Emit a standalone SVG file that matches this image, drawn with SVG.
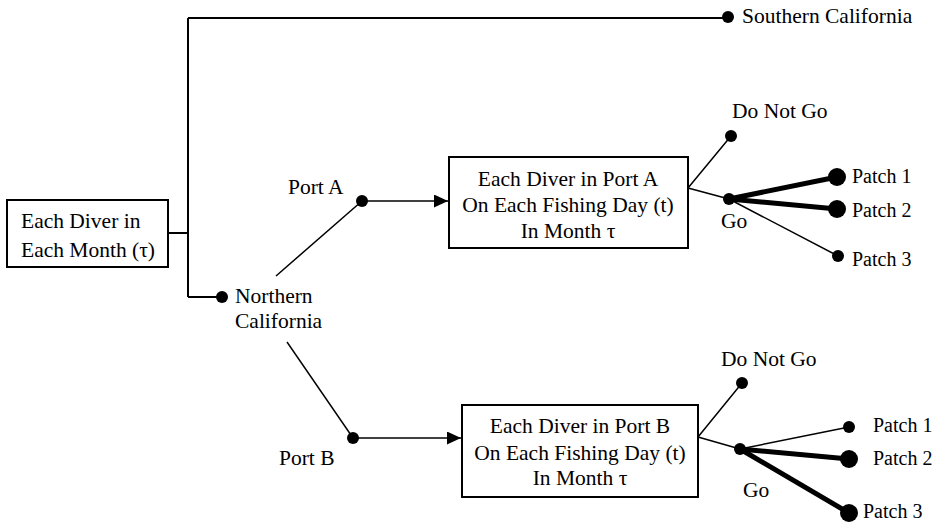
<svg xmlns="http://www.w3.org/2000/svg" width="938" height="523" viewBox="0 0 938 523">
<style>
text{font-family:"Liberation Serif","Times New Roman",serif;font-size:21.5px;fill:#000}
.p{font-size:20px}
.c{text-anchor:middle}
.box{fill:#fff;stroke:#000;stroke-width:2}
.frame{fill:none;stroke:#000;stroke-width:2}
.ln{fill:none;stroke:#000;stroke-width:1.5}
.thick{fill:none;stroke:#000;stroke-width:5}
.dot{fill:#000}
</style>
<defs>
<marker id="arr" viewBox="0 0 14 13" refX="14" refY="6.5" markerWidth="14" markerHeight="13" markerUnits="userSpaceOnUse" orient="auto">
<path d="M0,0 L14,6.5 L0,13 Z" fill="#000"/>
</marker>
</defs>
<g id="connectors">
<path class="frame" d="M168,233 H188 M188,18 V297 M188,18 H728 M188,297 H222"/>
<line class="ln" x1="276" y1="276" x2="362" y2="201"/>
<line class="ln" x1="362" y1="201" x2="448" y2="201" marker-end="url(#arr)"/>
<line class="ln" x1="287" y1="342" x2="353" y2="438"/>
<line class="ln" x1="353" y1="438" x2="461" y2="438" marker-end="url(#arr)"/>
<path class="ln" d="M688,188 L731,136 M688,188 L729,199"/>
<line class="thick" x1="729" y1="199" x2="837" y2="177"/>
<line class="thick" x1="729" y1="199" x2="837" y2="209"/>
<line class="ln" x1="729" y1="199" x2="838" y2="256"/>
<path class="ln" d="M698,437 L742,383 M698,437 L740,449"/>
<line class="ln" x1="740" y1="449" x2="849" y2="427"/>
<line class="thick" x1="740" y1="449" x2="849" y2="459"/>
<line class="thick" x1="740" y1="449" x2="849" y2="513"/>
</g>
<g id="root">
<rect class="box" x="7" y="200" width="161" height="67"/>
<text x="21" y="228">Each Diver in</text>
<text x="21" y="257">Each Month (τ)</text>
</g>
<g id="southern">
<circle class="dot" cx="728" cy="17" r="6"/>
<text x="742" y="23">Southern California</text>
</g>
<g id="northern">
<circle class="dot" cx="222" cy="297" r="6"/>
<text x="235" y="303">Northern</text>
<text x="235" y="328">California</text>
</g>
<g id="portA">
<circle class="dot" cx="362" cy="201" r="6"/>
<text x="288" y="194">Port A</text>
</g>
<g id="boxA">
<rect class="box" x="449" y="157" width="239" height="91"/>
<text class="c" x="568" y="186">Each Diver in Port A</text>
<text class="c" x="568" y="212">On Each Fishing Day (t)</text>
<text class="c" x="568" y="238">In Month τ</text>
</g>
<g id="noGoA">
<circle class="dot" cx="731" cy="136" r="6"/>
<text x="732" y="118">Do Not Go</text>
</g>
<g id="goA">
<circle class="dot" cx="729" cy="199" r="6"/>
<text x="721" y="228">Go</text>
</g>
<g id="patchA1">
<circle class="dot" cx="837" cy="177" r="9"/>
<text class="p" x="852" y="183">Patch 1</text>
</g>
<g id="patchA2">
<circle class="dot" cx="837" cy="209" r="9"/>
<text class="p" x="852" y="217">Patch 2</text>
</g>
<g id="patchA3">
<circle class="dot" cx="838" cy="256" r="6"/>
<text class="p" x="852" y="266">Patch 3</text>
</g>
<g id="portB">
<circle class="dot" cx="353" cy="438" r="6"/>
<text x="279" y="465">Port B</text>
</g>
<g id="boxB">
<rect class="box" x="462" y="405" width="236" height="92"/>
<text class="c" x="580" y="433">Each Diver in Port B</text>
<text class="c" x="580" y="460">On Each Fishing Day (t)</text>
<text class="c" x="580" y="485">In Month τ</text>
</g>
<g id="noGoB">
<circle class="dot" cx="742" cy="383" r="6"/>
<text x="721" y="366">Do Not Go</text>
</g>
<g id="goB">
<circle class="dot" cx="740" cy="449" r="6"/>
<text x="743" y="497">Go</text>
</g>
<g id="patchB1">
<circle class="dot" cx="849" cy="427" r="6"/>
<text class="p" x="873" y="432">Patch 1</text>
</g>
<g id="patchB2">
<circle class="dot" cx="849" cy="459" r="9"/>
<text class="p" x="873" y="465">Patch 2</text>
</g>
<g id="patchB3">
<circle class="dot" cx="849" cy="513" r="9"/>
<text class="p" x="863" y="518">Patch 3</text>
</g>
</svg>
